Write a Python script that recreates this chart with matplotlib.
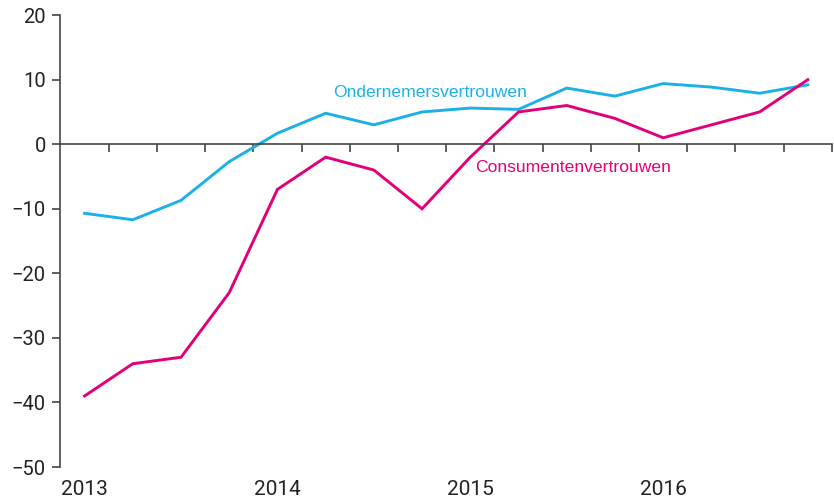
import matplotlib
matplotlib.use('Agg')
import matplotlib.pyplot as plt

# ==========================================
# DATA
# ==========================================

quarters = list(range(16))
year_labels = ['2013', '2014', '2015', '2016']
year_pos = [0, 4, 8, 12]

ondernemers = [-10.7, -11.7, -8.7, -2.7, 1.7, 4.8, 3.0, 5.0,
               5.6, 5.4, 8.7, 7.45, 9.4, 8.85, 7.9, 9.2]
consumenten = [-39, -34, -33, -23, -7, -2, -4, -10,
               -2, 5, 6, 4, 1, 3, 5, 10]

blue = '#1BB1E7'
pink = '#E2007A'
grey = '#444444'
text_col = '#222222'

plt.rcParams['font.family'] = ['Roboto', 'DejaVu Sans']

# ==========================================
# FIGURE
# ==========================================

fig = plt.figure(figsize=(8.34, 5.04), dpi=100)
ax = fig.add_axes([0.0725, 0.0734, 0.925, 0.8966])

ax.plot(quarters, ondernemers, color=blue, lw=2.1, solid_joinstyle='miter')
ax.plot(quarters, consumenten, color=pink, lw=2.1, solid_joinstyle='miter')

ax.set_xlim(-0.5, 15.5)
ax.set_ylim(-50, 20)

# zero line with quarter ticks
ax.spines['bottom'].set_position(('data', 0))
ax.spines['bottom'].set_color(grey)
ax.spines['bottom'].set_linewidth(1.2)
ax.spines['top'].set_visible(False)
ax.spines['right'].set_visible(False)
ax.spines['left'].set_color(grey)
ax.spines['left'].set_linewidth(1.2)

ax.set_xticks([q + 0.5 for q in quarters])
ax.set_xticklabels([])
ax.tick_params(axis='x', direction='out', length=6, width=1.2, color=grey)

ax.set_yticks(range(-50, 21, 10))
ax.tick_params(axis='y', direction='out', length=6, width=1.2, color=grey,
               labelsize=14.5, labelcolor=text_col, pad=4.5)

# year labels at the bottom
sec = ax.secondary_xaxis(0)
sec.spines['bottom'].set_visible(False)
sec.set_xticks(year_pos)
sec.set_xticklabels(year_labels)
sec.tick_params(axis='x', length=0, labelsize=15, labelcolor=text_col, pad=9)

# series labels
ax.text(5.15, 8.0, 'Ondernemersvertrouwen', color=blue, fontsize=12.6,
        family=['Liberation Sans', 'DejaVu Sans'], va='center', ha='left')
ax.text(8.1, -3.6, 'Consumentenvertrouwen', color=pink, fontsize=12.6,
        family=['Liberation Sans', 'DejaVu Sans'], va='center', ha='left')

plt.savefig('out.png', dpi=100)
plt.close()
